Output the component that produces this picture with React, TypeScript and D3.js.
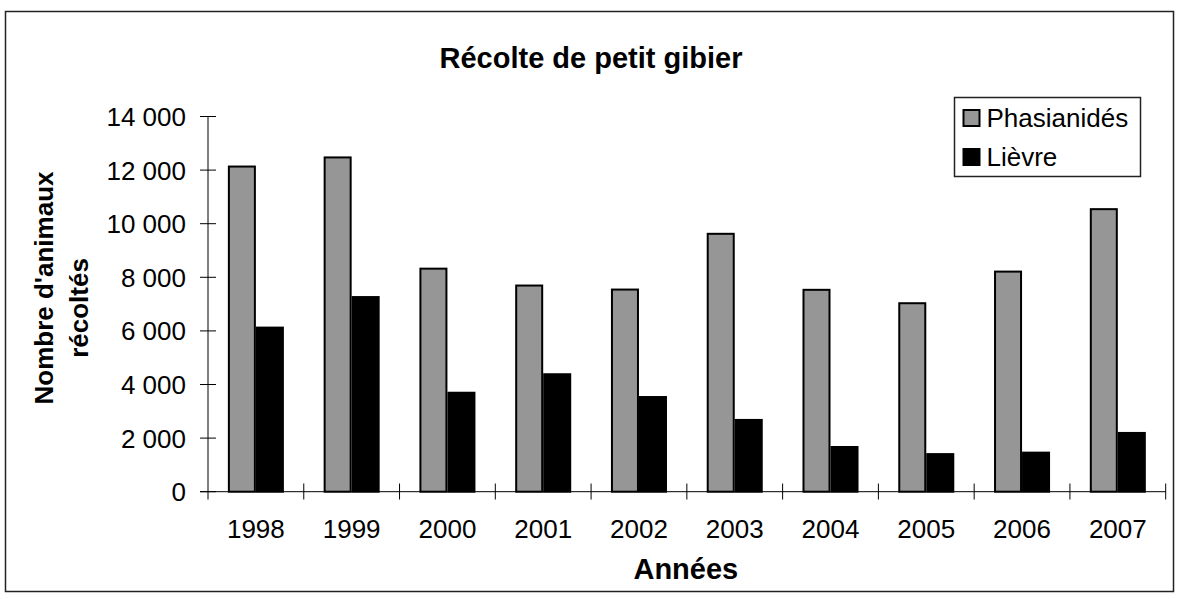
import React from "react";
import * as d3 from "d3";

const years = ["1998", "1999", "2000", "2001", "2002", "2003", "2004", "2005", "2006", "2007"];
const phasianides = [12170, 12510, 8360, 7730, 7580, 9660, 7570, 7070, 8250, 10580];
const lievre = [6160, 7300, 3730, 4420, 3570, 2715, 1705, 1440, 1495, 2230];
const seriesNames = ["Phasianidés", "Lièvre"];
const seriesColors = ["#969696", "#000000"];
const yTicks = [0, 2000, 4000, 6000, 8000, 10000, 12000, 14000];

const W = 1179;
const H = 599;
const FONT = "'Liberation Sans', Arial, Helvetica, sans-serif";

export default function App() {
  const x = d3.scaleBand<string>().domain(years).range([208, 1165.7]).paddingInner(0).paddingOuter(0);
  const y = d3.scaleLinear().domain([0, 14000]).range([491.7, 116.5]);
  const groupW = x.bandwidth() * 0.585;
  const x1 = d3.scaleBand<string>().domain(seriesNames).range([0, groupW]);
  const fmt = (v: number) => d3.format(",")(v).replace(/,/g, " ");
  const data = [phasianides, lievre];
  const x0 = x.range()[0];
  const xEnd = x.range()[1];

  return (
    <svg width={W} height={H} style={{ position: "absolute", left: 0, top: 0, background: "#fff" }} fontFamily={FONT}>
      <rect x={0} y={0} width={W} height={H} fill="#fff" />
      <rect x={5.5} y={11.5} width={1168} height={580} fill="none" stroke="#222" strokeWidth={1.5} />
      <text x={591} y={67.5} textAnchor="middle" fontSize={29} fontWeight="bold">Récolte de petit gibier</text>

      {/* bars */}
      {data.map((vals, si) =>
        years.map((yr, i) => {
          const bx = (x(yr) as number) + (x.bandwidth() - groupW) / 2 + (x1(seriesNames[si]) as number);
          const top = y(vals[i]);
          return (
            <rect
              key={si + "-" + yr}
              x={bx + 1}
              y={top + 1}
              width={x1.bandwidth() - 2}
              height={y(0) - top - 1}
              fill={seriesColors[si]}
              stroke="#000"
              strokeWidth={2}
            />
          );
        })
      )}

      {/* y axis */}
      <line x1={208} x2={208} y1={y(14000)} y2={499.5} stroke="#000" strokeWidth={1} />
      {yTicks.map((t) => (
        <g key={t}>
          <line x1={200} x2={216} y1={y(t)} y2={y(t)} stroke="#000" strokeWidth={1} />
          <text x={186} y={y(t) + 9.5} textAnchor="end" fontSize={26}>{fmt(t)}</text>
        </g>
      ))}

      {/* x axis */}
      <line x1={200} x2={xEnd} y1={y(0)} y2={y(0)} stroke="#000" strokeWidth={1} />
      {years.map((yr) => (
        <line key={"t" + yr} x1={(x(yr) as number) + x.bandwidth()} x2={(x(yr) as number) + x.bandwidth()} y1={483.5} y2={499.5} stroke="#000" strokeWidth={1} />
      ))}
      {years.map((yr) => (
        <text key={"l" + yr} x={(x(yr) as number) + x.bandwidth() / 2} y={538.3} textAnchor="middle" fontSize={26}>{yr}</text>
      ))}
      <text x={(x0 + xEnd) / 2 - 1} y={578.5} textAnchor="middle" fontSize={29} fontWeight="bold">Années</text>

      {/* y title */}
      <text transform={`translate(52.5,288) rotate(-90)`} textAnchor="middle" fontSize={26} fontWeight="bold">Nombre d'animaux</text>
      <text transform={`translate(88,308) rotate(-90)`} textAnchor="middle" fontSize={26} fontWeight="bold">récoltés</text>

      {/* legend */}
      <rect x={954.5} y={97.5} width={186} height={79} fill="#fff" stroke="#222" strokeWidth={1.5} />
      {seriesNames.map((s, i) => (
        <g key={s}>
          <rect x={963.5} y={110 + i * 39} width={16} height={16} fill={seriesColors[i]} stroke="#000" strokeWidth={2} />
          <text x={986.5} y={127 + i * 39} fontSize={26}>{s}</text>
        </g>
      ))}
    </svg>
  );
}
